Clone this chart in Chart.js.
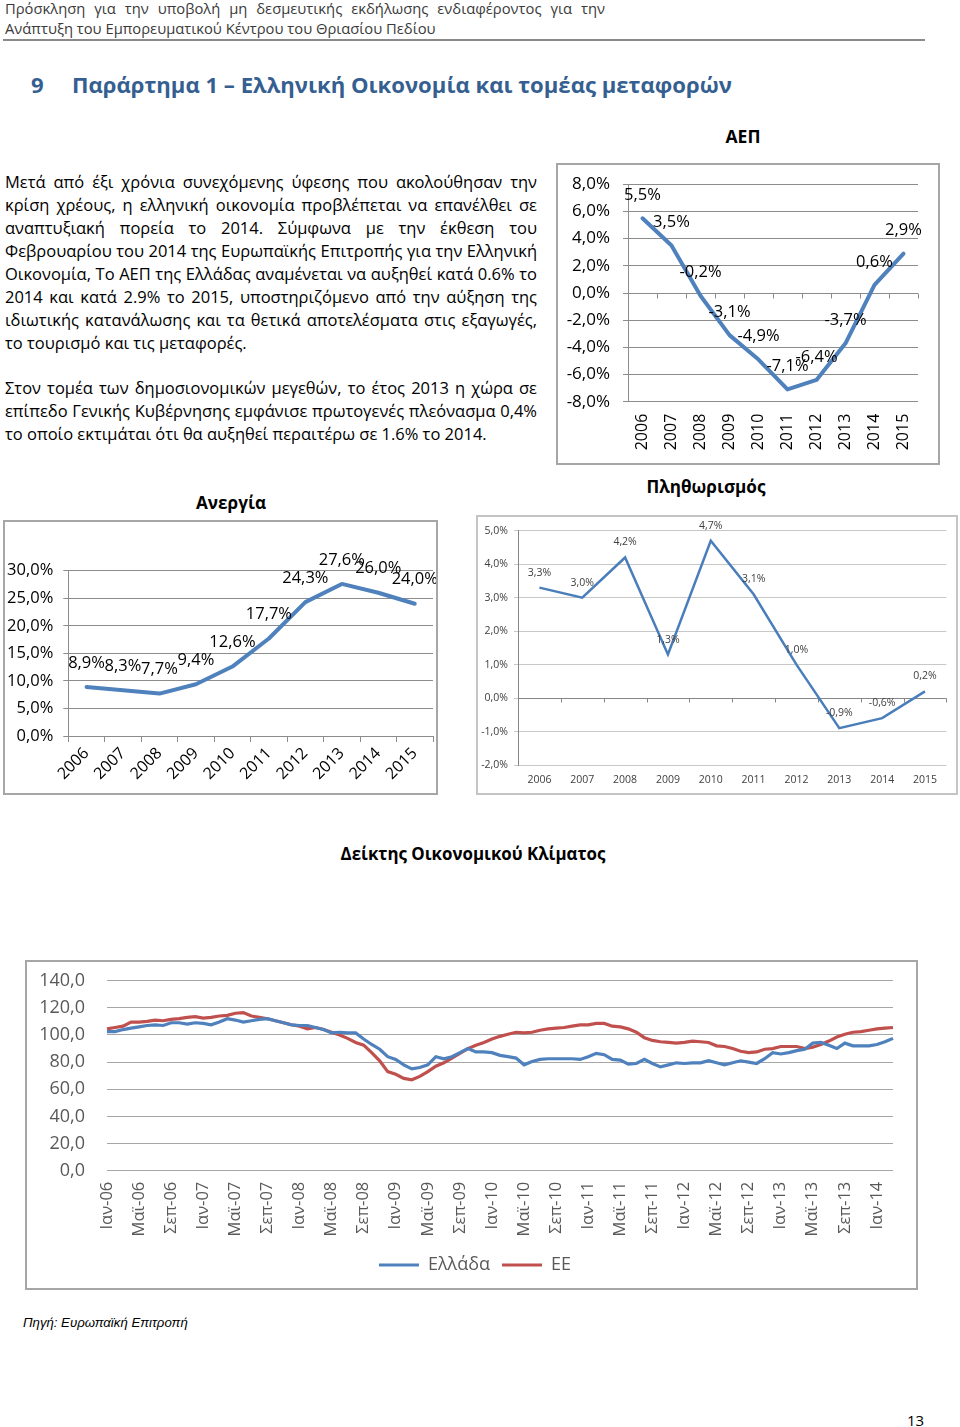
<!DOCTYPE html>
<html><head><meta charset="utf-8">
<script src="https://cdn.jsdelivr.net/npm/chart.js@4.4.0/dist/chart.umd.min.js"></script>
<style>
body{margin:0;width:960px;height:1427px;position:relative;background:#fff;font-family:'Open Sans',sans-serif;overflow:hidden;color:#000}
.a{position:absolute;white-space:nowrap;line-height:1.2}
.c{transform:translate(-50%,-50%)}
.v{transform:translateY(-50%)}
.jl{position:absolute;left:5px;width:532px;text-align:justify;text-align-last:justify;white-space:normal;line-height:23px;height:23px}
.frame{position:absolute;box-sizing:border-box;border:2px solid #a6a6a6;background:#fff}
.frame>div{position:absolute;left:0;top:0;right:0;bottom:0}
.title{font-weight:bold;font-size:18px}
</style></head><body>

<div class="a v hdr" id="h1" style="left:5px;top:9px;width:600px;text-align:justify;text-align-last:justify;white-space:normal;color:#3a3a3a;font-size:14px">Πρόσκληση για την υποβολή μη δεσμευτικής εκδήλωσης ενδιαφέροντος για την</div>
<div class="a v" id="h2" data-w="431" style="left:5px;top:29px;color:#3a3a3a;font-size:14px">Ανάπτυξη του Εμπορευματικού Κέντρου του Θριασίου Πεδίου</div>
<div class="a" style="left:3px;top:39px;width:922px;height:0;border-top:2px solid #8a8a8a"></div>

<div class="a v" id="hn" style="left:31px;top:84px;font-weight:bold;color:#365f91;font-size:22px">9</div>
<div class="a v" id="ht" data-w="660" style="left:72px;top:84px;font-weight:bold;color:#365f91;font-size:22px">Παράρτημα 1 – Ελληνική Οικονομία και τομέας μεταφορών</div>

<div id="para">
<div class="jl" style="top:169.5px">Μετά από έξι χρόνια συνεχόμενης ύφεσης που ακολούθησαν την</div>
<div class="jl" style="top:192.5px">κρίση χρέους, η ελληνική οικονομία προβλέπεται να επανέλθει σε</div>
<div class="jl" style="top:215.5px">αναπτυξιακή πορεία το 2014. Σύμφωνα με την έκθεση του</div>
<div class="jl" style="top:238.5px">Φεβρουαρίου του 2014 της Ευρωπαϊκής Επιτροπής για την Ελληνική</div>
<div class="jl" style="top:261.5px">Οικονομία, Το ΑΕΠ της Ελλάδας αναμένεται να αυξηθεί κατά 0.6% το</div>
<div class="jl" style="top:284.5px">2014 και κατά 2.9% το 2015, υποστηριζόμενο από την αύξηση της</div>
<div class="jl" style="top:307.5px">ιδιωτικής κατανάλωσης και τα θετικά αποτελέσματα στις εξαγωγές,</div>
<div class="jl" style="top:330.5px;text-align:left;text-align-last:left">το τουρισμό και τις μεταφορές.</div>
<div class="jl" style="top:375.5px">Στον τομέα των δημοσιονομικών μεγεθών, το έτος 2013 η χώρα σε</div>
<div class="jl" style="top:398.5px">επίπεδο Γενικής Κυβέρνησης εμφάνισε πρωτογενές πλεόνασμα 0,4%</div>
<div class="jl" id="plast" style="top:421.5px;text-align:left;text-align-last:left;width:auto">το οποίο εκτιμάται ότι θα αυξηθεί περαιτέρω σε 1.6% το 2014.</div>
</div>

<div class="a c title" data-w="35" style="left:743px;top:137px">ΑΕΠ</div>
<div class="a c title" data-w="70" style="left:231px;top:503px">Ανεργία</div>
<div class="a c title" data-w="119" style="left:706px;top:487px">Πληθωρισμός</div>
<div class="a c title" data-w="265" style="left:473px;top:854px">Δείκτης Οικονομικού Κλίματος</div>

<div class="frame" style="left:556px;top:163px;width:384px;height:302px"><div><canvas id="gdp"></canvas></div></div>
<div class="frame" style="left:3px;top:520px;width:435px;height:275px"><div><canvas id="unemp"></canvas></div></div>
<div class="frame" style="left:476px;top:515px;width:482px;height:280px;border-color:#c4c4c4"><div><canvas id="infl"></canvas></div></div>
<div class="frame" style="left:25px;top:960px;width:893px;height:330px"><div><canvas id="esi"></canvas></div></div>

<div class="a v" data-w="165" style="left:23px;top:1323px;font-family:'Liberation Sans',Arial,sans-serif;font-style:italic;font-size:13px">Πηγή: Ευρωπαϊκή Επιτροπή</div>
<div class="a v" style="left:907px;top:1420px;font-size:15px">13</div>

<script>
// ---------------- DATA ----------------
const gdpYears = ['2006','2007','2008','2009','2010','2011','2012','2013','2014','2015'];
const gdpValues = [5.5, 3.5, -0.2, -3.1, -4.9, -7.1, -6.4, -3.7, 0.6, 2.9];

const unempYears = ['2006','2007','2008','2009','2010','2011','2012','2013','2014','2015'];
const unempValues = [8.9, 8.3, 7.7, 9.4, 12.6, 17.7, 24.3, 27.6, 26.0, 24.0];

const inflYears = ['2006','2007','2008','2009','2010','2011','2012','2013','2014','2015'];
const inflValues = [3.3, 3.0, 4.2, 1.3, 4.7, 3.1, 1.0, -0.9, -0.6, 0.2];

const esiMonths = [
 'Ιαν-06','Φεβ-06','Μαρ-06','Απρ-06','Μαϊ-06','Ιουν-06','Ιουλ-06','Αυγ-06','Σεπ-06','Οκτ-06','Νοε-06','Δεκ-06',
 'Ιαν-07','Φεβ-07','Μαρ-07','Απρ-07','Μαϊ-07','Ιουν-07','Ιουλ-07','Αυγ-07','Σεπ-07','Οκτ-07','Νοε-07','Δεκ-07',
 'Ιαν-08','Φεβ-08','Μαρ-08','Απρ-08','Μαϊ-08','Ιουν-08','Ιουλ-08','Αυγ-08','Σεπ-08','Οκτ-08','Νοε-08','Δεκ-08',
 'Ιαν-09','Φεβ-09','Μαρ-09','Απρ-09','Μαϊ-09','Ιουν-09','Ιουλ-09','Αυγ-09','Σεπ-09','Οκτ-09','Νοε-09','Δεκ-09',
 'Ιαν-10','Φεβ-10','Μαρ-10','Απρ-10','Μαϊ-10','Ιουν-10','Ιουλ-10','Αυγ-10','Σεπ-10','Οκτ-10','Νοε-10','Δεκ-10',
 'Ιαν-11','Φεβ-11','Μαρ-11','Απρ-11','Μαϊ-11','Ιουν-11','Ιουλ-11','Αυγ-11','Σεπ-11','Οκτ-11','Νοε-11','Δεκ-11',
 'Ιαν-12','Φεβ-12','Μαρ-12','Απρ-12','Μαϊ-12','Ιουν-12','Ιουλ-12','Αυγ-12','Σεπ-12','Οκτ-12','Νοε-12','Δεκ-12',
 'Ιαν-13','Φεβ-13','Μαρ-13','Απρ-13','Μαϊ-13','Ιουν-13','Ιουλ-13','Αυγ-13','Σεπ-13','Οκτ-13','Νοε-13','Δεκ-13',
 'Ιαν-14','Φεβ-14','Μαρ-14'
];
const esiGreece = [
 102.5,102.5,104,105,106,107,107.5,107,109,109,108,109,
 108.5,107.5,109.5,112,111,109.5,110.5,111.5,112,110.5,109,107.5,
 107,107,105.5,104,101.5,102,101.5,101.5,97,93,89.5,84,
 82,78,75,76,78,84,82.5,84,87,90,87.5,87.5,
 87,85,84,83,78,80.5,82,82.5,82.5,82.5,82.5,82,
 84,86.5,85.5,82,81.5,78.5,79,82,79,76.5,78,79.5,
 79,79.5,79.5,81,79.5,78,79.5,81,80,79,82.5,87,
 86,87,88.5,89.5,94,94.5,92.5,90,94,92,92,92,
 93,95,97.5
];
const esiEU = [
 104.5,105.5,106.5,109.5,109.5,110,111,110.5,111.5,112,113,113.5,
 112.5,113,114,114.5,116,116.5,114,113,112,110.5,109,107.5,
 106.5,104.5,105.5,104,102,100,97.5,94.5,92.5,87,81,73,
 71,68,67,69.5,73,77,79.5,83,86.5,90,92.5,94.5,
 97,99,100.5,102,101.5,102,103.5,104.5,105,105.5,106.5,107.5,
 107.5,108.5,108.5,106.5,106,104.5,102,98,96,95,94.5,94,
 94.5,95.5,95,94.5,92,91.5,90,88,87,87.5,89.5,90,
 91.5,91.5,91.5,90,91,93,95.5,98.5,100.5,102,102.5,103.5,
 104.5,105,105.5
];
const esiSeries = ['Ελλάδα', 'ΕΕ'];

// ---------------- TEXT FITTING ----------------
function fit(el, target){
  const w = el.getBoundingClientRect().width;
  const fs = parseFloat(getComputedStyle(el).fontSize);
  el.style.fontSize = (fs * target / w) + 'px';
  return fs * target / w;
}
document.querySelectorAll('[data-w]').forEach(el => fit(el, +el.dataset.w));
document.getElementById('h1').style.fontSize = document.getElementById('h2').style.fontSize;
document.getElementById('hn').style.fontSize = document.getElementById('ht').style.fontSize;
(function(){
  const last = document.getElementById('plast');
  last.style.display='inline-block'; last.style.whiteSpace='nowrap';
  last.style.fontSize='15px';
  const fs = fit(last, 482);
  document.querySelectorAll('.jl').forEach(el => el.style.fontSize = fs + 'px');
})();

// ---------------- CHARTS ----------------
Chart.defaults.font.family = "'Open Sans', sans-serif";
Chart.defaults.color = '#000';
const pct = v => Number(v).toFixed(1).replace('.', ',') + '%';

const valueLabels = {
  id: 'valueLabels',
  afterDatasetsDraw(chart, args, o) {
    const ctx = chart.ctx;
    const ds = chart.data.datasets[0];
    const meta = chart.getDatasetMeta(0);
    ctx.save();
    ctx.font = o.font; ctx.fillStyle = o.color;
    ctx.textAlign = 'center'; ctx.textBaseline = 'middle';
    meta.data.forEach((p, i) => ctx.fillText(pct(ds.data[i]), p.x, p.y - o.offset));
    ctx.restore();
  }
};
const zeroAxis = {
  id: 'zeroAxis',
  beforeDatasetsDraw(chart, args, o) {
    const xs = chart.scales.x, ys = chart.scales.y, ctx = chart.ctx;
    const y0 = Math.round(ys.getPixelForValue(0)) + 0.5;
    const n = chart.data.labels.length;
    ctx.save(); ctx.strokeStyle = o.color; ctx.lineWidth = 1;
    ctx.beginPath(); ctx.moveTo(xs.left, y0); ctx.lineTo(xs.right, y0);
    for (let i = 1; i <= n; i++) {
      const px = Math.round(xs.left + (xs.right - xs.left) * i / n) + 0.5;
      ctx.moveTo(px, y0); ctx.lineTo(px, y0 + o.tick);
    }
    ctx.stroke(); ctx.restore();
  }
};
const legendShift = {
  id: 'legendShift',
  afterLayout(chart, args, o) {
    const l = chart.legend;
    if (l) { l.left += o.dx; l.right += o.dx; }
  }
};
function fixY(w){ return s => { s.width = w; s.paddingTop = 0; s.paddingBottom = 0; }; }
function fixX(h){ return s => { s.height = h; s.paddingLeft = 0; s.paddingRight = 0; }; }
const base = {
  animation: false, responsive: true, maintainAspectRatio: false,
  elements: { point: { radius: 0, hoverRadius: 0 }, line: { tension: 0 } },
  events: []
};

new Chart(document.getElementById('gdp'), {
  type: 'line',
  data: { labels: gdpYears, datasets: [{ data: gdpValues, borderColor: '#4f81bd', borderWidth: 4, borderCapStyle: 'round', borderJoinStyle: 'round' }] },
  plugins: [zeroAxis, valueLabels],
  options: Object.assign({}, base, {
    layout: { padding: { top: 19.3, right: 20, left: 0, bottom: 0 } },
    plugins: { legend: { display: false }, tooltip: { enabled: false },
      valueLabels: { font: "16.5px 'Open Sans'", color: '#000', offset: 23 },
      zeroAxis: { color: '#8c8c8c', tick: 5 } },
    scales: {
      x: { offset: true, grid: { display: false, drawTicks: false }, border: { display: false },
           ticks: { autoSkip: false, minRotation: 90, maxRotation: 90, padding: 12, font: { size: 16 }, color: '#000' },
           afterFit: fixX(61.3) },
      y: { min: -8, max: 8, ticks: { stepSize: 2, callback: v => pct(v), font: { size: 17 }, color: '#000', padding: 13 },
           grid: { color: '#8c8c8c', tickLength: 5 }, border: { display: true, color: '#8c8c8c' },
           afterFit: fixY(70) }
    }
  })
});

new Chart(document.getElementById('unemp'), {
  type: 'line',
  data: { labels: unempYears, datasets: [{ data: unempValues, borderColor: '#4f81bd', borderWidth: 4, borderCapStyle: 'round', borderJoinStyle: 'round' }] },
  plugins: [valueLabels],
  options: Object.assign({}, base, {
    layout: { padding: { top: 48.7, right: 3, left: 0, bottom: 0 } },
    plugins: { legend: { display: false }, tooltip: { enabled: false },
      valueLabels: { font: "16.5px 'Open Sans'", color: '#000', offset: 24 } },
    scales: {
      x: { offset: true, grid: { display: true, drawOnChartArea: false, offset: true, tickLength: 6, color: '#8c8c8c' },
           border: { display: true, color: '#8c8c8c' },
           ticks: { autoSkip: false, minRotation: 45, maxRotation: 45, padding: 2, font: { size: 16 }, color: '#000' },
           afterFit: fixX(57) },
      y: { min: 0, max: 30, ticks: { stepSize: 5, callback: v => pct(v), font: { size: 16.5 }, color: '#000', padding: 10 },
           grid: { color: '#8c8c8c', tickLength: 5 }, border: { display: true, color: '#8c8c8c' },
           afterFit: fixY(63.3) }
    }
  })
});

new Chart(document.getElementById('infl'), {
  type: 'line',
  data: { labels: inflYears, datasets: [{ data: inflValues, borderColor: '#4a7ebb', borderWidth: 2.5 }] },
  plugins: [zeroAxis, valueLabels],
  options: Object.assign({}, base, {
    layout: { padding: { top: 13.7, right: 9.6, left: 0, bottom: 0 } },
    plugins: { legend: { display: false }, tooltip: { enabled: false },
      valueLabels: { font: "10.5px 'Open Sans'", color: '#404040', offset: 15 },
      zeroAxis: { color: '#868686', tick: 4 } },
    scales: {
      x: { offset: true, grid: { display: false, drawTicks: false }, border: { display: false },
           ticks: { autoSkip: false, minRotation: 0, maxRotation: 0, padding: 9, font: { size: 10.5 }, color: '#404040' },
           afterFit: fixX(28) },
      y: { min: -2, max: 5, ticks: { stepSize: 1, callback: v => pct(v), font: { size: 10.5 }, color: '#404040', padding: 6 },
           grid: { color: '#c8c8c8', tickLength: 4 }, border: { display: true, color: '#868686' },
           afterFit: fixY(40) }
    }
  })
});

new Chart(document.getElementById('esi'), {
  type: 'line',
  data: { labels: esiMonths, datasets: [
    { label: esiSeries[0], data: esiGreece, borderColor: '#4f81bd', backgroundColor: '#4f81bd', borderWidth: 3.2 },
    { label: esiSeries[1], data: esiEU, borderColor: '#c0504d', backgroundColor: '#c0504d', borderWidth: 3.2 }
  ] },
  plugins: [legendShift],
  options: Object.assign({}, base, {
    layout: { padding: { top: 18.7, right: 23, left: 0, bottom: 4 } },
    plugins: { tooltip: { enabled: false },
      legendShift: { dx: 15 },
      legend: { display: true, position: 'bottom',
        labels: { usePointStyle: true, pointStyle: 'line', pointStyleWidth: 40, boxHeight: 18, font: { size: 18 }, color: '#595959', padding: 12 } } },
    scales: {
      x: { offset: false, grid: { display: false, drawTicks: false }, border: { display: false },
           ticks: { autoSkip: false, minRotation: 90, maxRotation: 90, padding: 11, font: { size: 16.5 }, color: '#595959',
                    callback: (v, i) => (i % 4 === 0 ? esiMonths[i] : '') },
           afterFit: fixX(73.3) },
      y: { min: 0, max: 140, ticks: { stepSize: 20, callback: v => Number(v).toFixed(1).replace('.', ','), font: { size: 18 }, color: '#595959', padding: 3 },
           grid: { color: '#a6a6a6', drawTicks: true, tickLength: 19, tickColor: 'rgba(0,0,0,0)' }, border: { display: false },
           afterFit: fixY(80) }
    }
  })
});
</script>
</body></html>
